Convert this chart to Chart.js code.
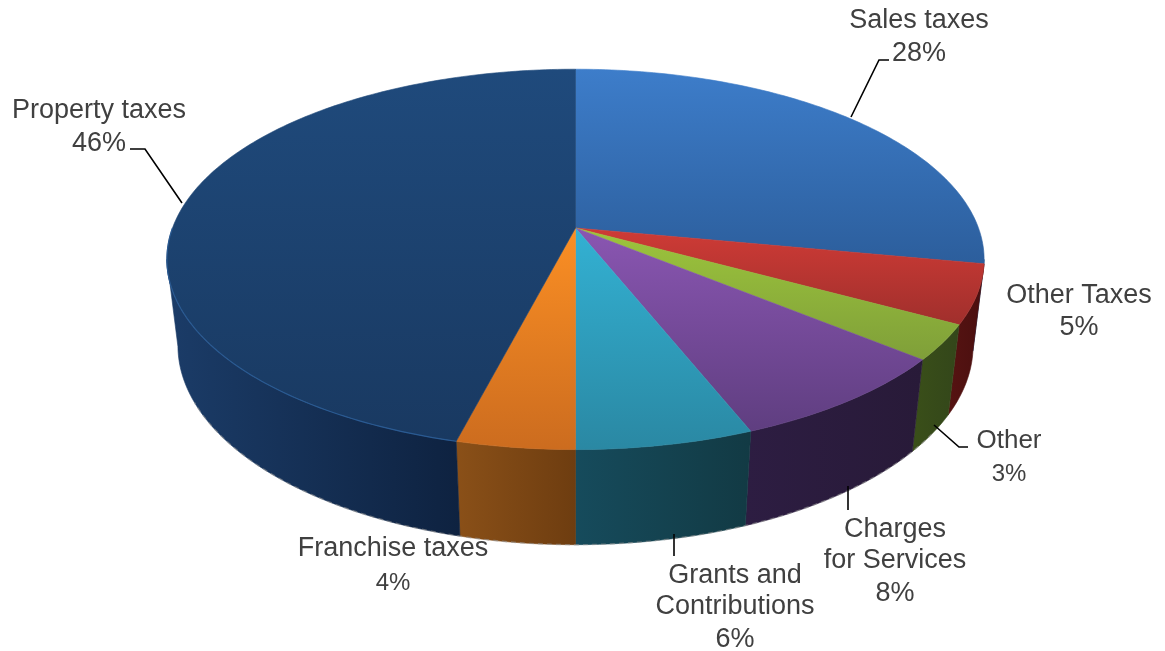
<!DOCTYPE html>
<html>
<head>
<meta charset="utf-8">
<title>Revenue sources</title>
<script src="https://cdn.jsdelivr.net/npm/chart.js@4"></script>
<style>
  html, body { margin: 0; background: #fff; }
  canvas { display: block; }
</style>
</head>
<body>
<canvas id="revenuePie" width="1165" height="651"></canvas>
<script>
// Clockwise from twelve o'clock
const categories = ['Sales taxes', 'Other Taxes', 'Other', 'Charges\nfor Services', 'Grants and\nContributions', 'Franchise taxes', 'Property taxes'];
const shares = [28, 5, 3, 8, 6, 4, 46];

// Face and wall shading per slice
const faceLight = ['#3d7dca', '#cf3b36', '#9dc53c', '#8a56b2', '#33b1d3', '#fb8f24', '#1f4a7c'];
const faceDark = ['#2c5e9c', '#a02f2c', '#7f9f39', '#5f3e80', '#2a88a3', '#cc6c1f', '#193961'];
const wallLeft = ['#24507f', '#561312', '#3a4f19', '#2d1d42', '#164b5c', '#8a5018', '#1b3c68'];
const wallRight = ['#24507f', '#4a0f0f', '#33461a', '#281a38', '#123a44', '#6e3d10', '#0e2240'];

// Label placement: [centre x, first baseline, line step, name font, percent baseline, percent font]
const labelSpots = [
  [919, 28, 0, 27, 61, 27],
  [1079, 303, 0, 27, 335, 27],
  [1009, 448, 0, 26, 481, 24],
  [895, 537, 31, 27, 601, 27],
  [735, 583, 31, 27, 647, 27],
  [393, 556, 0, 27, 590, 24],
  [99, 118, 0, 27, 151, 27]
];

// Leader lines
const leaders = [
  [[851, 117], [879, 60], [889, 60]],
  [[130, 149], [145, 149], [182, 203]],
  [[934, 425], [959, 447], [968, 447]],
  [[848, 486], [848, 510]],
  [[674, 534], [674, 556]]
];

// Perspective camera for the disc: k tilts the plane, m shrinks the lower rim
const cam = { cx: 575.5, cy: 228, B: 403, A: 185, D: 88, k: 0.165, m: 0.027 };

function project(angle, r, z) {
  const u = r * Math.cos(angle);
  const v = r * Math.sin(angle);
  const w = 1 - cam.k * v + cam.m * z;
  return [cam.cx + cam.B * u / w, cam.cy + (cam.A * v + cam.D * z) / w];
}

function arcPoints(start, end, z) {
  const steps = Math.max(2, Math.ceil((end - start) / (Math.PI / 180)));
  const pts = [];
  for (let i = 0; i <= steps; i++) {
    pts.push(project(start + (end - start) * i / steps, 1, z));
  }
  return pts;
}

function tracePath(ctx, pts, close) {
  ctx.beginPath();
  pts.forEach((p, i) => i ? ctx.lineTo(p[0], p[1]) : ctx.moveTo(p[0], p[1]));
  if (close) ctx.closePath();
}

const pie3d = {
  id: 'pie3d',
  beforeDatasetsDraw(chart) {
    const ctx = chart.ctx;
    const arcs = chart.getDatasetMeta(0).data;
    // the wall is visible between the two silhouette tangents of the disc
    const frontStart = Math.asin(cam.k);
    const frontEnd = Math.PI - Math.asin(cam.k);

    arcs.forEach((arc, i) => {
      const start = Math.max(arc.startAngle, frontStart);
      const end = Math.min(arc.endAngle, frontEnd);
      if (end <= start) return;
      const upper = arcPoints(start, end, 0);
      const lower = arcPoints(start, end, 1);
      const pts = upper.concat(lower.reverse());
      const xs = pts.map(p => p[0]);
      const g = ctx.createLinearGradient(Math.min(...xs), 0, Math.max(...xs), 0);
      g.addColorStop(0, wallLeft[i]);
      g.addColorStop(1, wallRight[i]);
      tracePath(ctx, pts, true);
      ctx.fillStyle = g;
      ctx.strokeStyle = g;
      ctx.lineWidth = 0.6;
      ctx.fill();
      ctx.stroke();
    });

    // broken pale line along the bottom edge of the wall
    tracePath(ctx, arcPoints(0.6, 2.7, 1), false);
    ctx.setLineDash([5, 4]);
    ctx.strokeStyle = 'rgba(150, 150, 150, 0.55)';
    ctx.lineWidth = 1.4;
    ctx.stroke();
    ctx.setLineDash([]);

    // top face
    arcs.forEach((arc, i) => {
      const pts = [project(0, 0, 0)].concat(arcPoints(arc.startAngle, arc.endAngle, 0));
      const ys = pts.map(p => p[1]);
      const g = ctx.createLinearGradient(0, Math.min(...ys), 0, Math.max(...ys));
      g.addColorStop(0, faceLight[i]);
      g.addColorStop(1, faceDark[i]);
      tracePath(ctx, pts, true);
      ctx.fillStyle = g;
      ctx.strokeStyle = g;
      ctx.lineWidth = 0.6;
      ctx.fill();
      ctx.stroke();
    });

    // thin bevel along the near edge of the large slice
    const big = arcs[arcs.length - 1];
    tracePath(ctx, arcPoints(big.startAngle, Math.PI, 0), false);
    ctx.strokeStyle = '#2a5a92';
    ctx.lineWidth = 1.2;
    ctx.stroke();

    return false;
  },
  afterDraw(chart) {
    const ctx = chart.ctx;
    ctx.strokeStyle = '#000';
    ctx.lineWidth = 1.6;
    leaders.forEach(line => {
      tracePath(ctx, line, false);
      ctx.stroke();
    });

    ctx.fillStyle = '#404040';
    ctx.textAlign = 'center';
    ctx.textBaseline = 'alphabetic';
    categories.forEach((name, i) => {
      const [x, y, step, nameFont, pctY, pctFont] = labelSpots[i];
      ctx.font = nameFont + 'px "Liberation Sans"';
      name.split('\n').forEach((line, n) => ctx.fillText(line, x, y + n * step));
      ctx.font = pctFont + 'px "Liberation Sans"';
      ctx.fillText(shares[i] + '%', x, pctY);
    });
  }
};

new Chart('revenuePie', {
  type: 'pie',
  data: {
    labels: categories,
    datasets: [{ data: shares, backgroundColor: faceLight, borderWidth: 0 }]
  },
  options: {
    responsive: false,
    animation: false,
    plugins: { legend: { display: false }, tooltip: { enabled: false } }
  },
  plugins: [pie3d]
});
</script>
</body>
</html>
